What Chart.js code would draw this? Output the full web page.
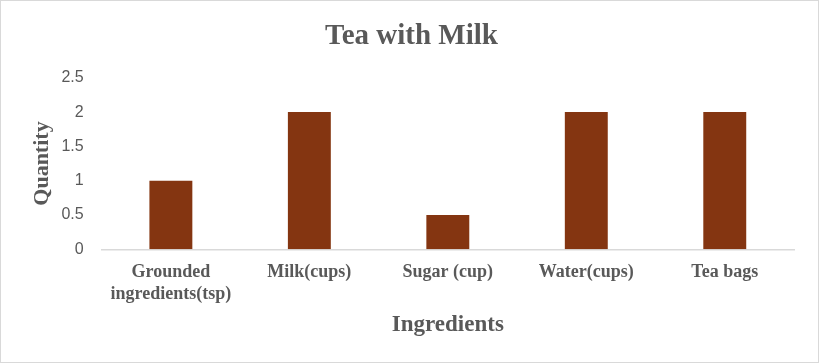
<!DOCTYPE html>
<html>
<head>
<meta charset="utf-8">
<script src="https://cdn.jsdelivr.net/npm/chart.js@4"></script>
<style>
  html, body { margin: 0; padding: 0; background: #fff; }
  #wrap { width: 819px; height: 363px; box-sizing: border-box; border: 1.5px solid #d9d9d9; position: relative; }
</style>
</head>
<body>
<div id="wrap"><canvas id="myChart"></canvas></div>
<script>
const labels = [['Grounded', 'ingredients(tsp)'], 'Milk(cups)', 'Sugar (cup)', 'Water(cups)', 'Tea bags'];
const quantities = [1, 2, 0.5, 2, 2];

const serif = '"Liberation Serif", "Times New Roman", serif';
const sans = '"Liberation Sans", Arial, sans-serif';

const data = {
    labels: labels,
    datasets: [
        {
            label: 'Quantity',
            data: quantities,
            backgroundColor: '#843511',
            barPercentage: 0.62,
            categoryPercentage: 0.5
        }
    ]
};

const config = {
    type: 'bar',
    data: data,
    options: {
        responsive: true,
        maintainAspectRatio: false,
        animation: false,
        layout: {
            padding: { left: 28, right: 24, top: 0, bottom: 22 }
        },
        plugins: {
            legend: { display: false },
            tooltip: { enabled: false },
            title: {
                display: true,
                text: 'Tea with Milk',
                color: '#595959',
                font: { family: serif, size: 29, weight: 'bold' },
                padding: { top: 18, bottom: 24 }
            }
        },
        scales: {
            x: {
                grid: { display: false, tickLength: 13 },
                border: { display: true, color: '#d9d9d9', width: 1.5 },
                ticks: {
                    color: '#595959',
                    font: { family: serif, size: 18, weight: 'bold', lineHeight: 1.17 },
                    padding: 0,
                    maxRotation: 0
                },
                title: {
                    display: true,
                    text: 'Ingredients',
                    color: '#595959',
                    font: { family: serif, size: 23, weight: 'bold' },
                    padding: { top: 7, bottom: 1 }
                }
            },
            y: {
                min: 0,
                max: 2.5,
                ticks: {
                    stepSize: 0.5,
                    color: '#595959',
                    font: { family: sans, size: 16 },
                    padding: 6,
                    callback: (v) => String(v)
                },
                grid: { display: false, tickLength: 12 },
                border: { display: false },
                title: {
                    display: true,
                    text: 'Quantity',
                    color: '#595959',
                    font: { family: serif, size: 22, weight: 'bold' },
                    padding: { top: 0, bottom: 0 }
                }
            }
        }
    }
};

const ctx = document.getElementById('myChart').getContext('2d');
const myChart = new Chart(ctx, config);
</script>
</body>
</html>
